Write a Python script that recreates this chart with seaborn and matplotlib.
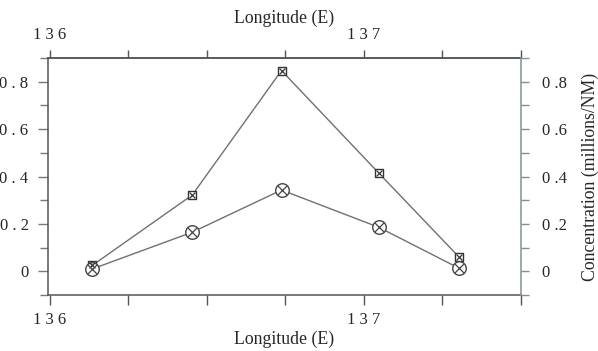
import matplotlib
matplotlib.use("Agg")
import matplotlib.pyplot as plt
import seaborn as sns
import pandas as pd
import numpy as np

# Data
longitude = [136.136, 136.454, 136.738, 137.047, 137.303]
series_square = [0.025, 0.322, 0.847, 0.415, 0.060]
series_circle = [0.010, 0.165, 0.343, 0.186, 0.013]

x_ticks = [136.0, 136.25, 136.5, 136.75, 137.0, 137.25, 137.5]
x_ticklabels = ["1 3 6", "", "", "", "1 3 7", "", ""]
y_ticks = [0.0, 0.2, 0.4, 0.6, 0.8]
y_left_labels = ["0", "0 . 2", "0 . 4", "0 . 6", "0 . 8"]
y_right_labels = ["0", "0 .2", "0 .4", "0 .6", "0 .8"]
y_minor = [-0.1, 0.1, 0.3, 0.5, 0.7, 0.9]

sns.set_theme(style="white")
plt.rcParams["font.family"] = ["Liberation Serif", "DejaVu Serif"]

df = pd.DataFrame({
    "lon": longitude * 2,
    "val": series_square + series_circle,
    "series": ["square"] * 5 + ["circle"] * 5,
})

fig = plt.figure(figsize=(5.98, 3.51), dpi=100)
ax = fig.add_axes([0.0803, 0.1595, 0.7909, 0.6753])

line_col = "#707070"
sns.lineplot(data=df, x="lon", y="val", units="series", estimator=None,
             color=line_col, lw=1.0, ax=ax, legend=False)

sq = df[df.series == "square"]
ci = df[df.series == "circle"]
ax.scatter(sq.lon, sq.val, marker="s", s=40, facecolor="white", edgecolor="#333333", lw=1.0, zorder=3)
ax.scatter(sq.lon, sq.val, marker="x", s=18, color="#333333", lw=0.9, zorder=4)
ax.scatter(ci.lon, ci.val, marker="o", s=95, facecolor="white", edgecolor="#444444", lw=1.0, zorder=3)
ax.scatter(ci.lon, ci.val, marker="x", s=42, color="#444444", lw=0.9, zorder=4)

ax.set_xlim(136.0 - 0.005, 137.5)
ax.set_ylim(-0.1, 0.9)

tick_fs = 12
lab_fs = 12.8

ax.set_xticks(x_ticks)
ax.set_xticklabels(x_ticklabels, fontsize=tick_fs)
ax.set_yticks(y_ticks)
ax.set_yticklabels(y_left_labels, fontsize=tick_fs)
ax.set_yticks(y_minor, minor=True)
ax.tick_params(axis="x", which="both", direction="out", length=7, width=1, color="#555555", pad=5, bottom=True)
ax.tick_params(axis="y", which="major", direction="out", length=7, width=1, color="#777777", pad=7, left=True)
ax.tick_params(axis="y", which="minor", direction="out", length=6, width=1, color="#777777", left=True)
ax.set_xlabel("Longitude (E)", fontsize=lab_fs, labelpad=2)
ax.set_ylabel("")

for s in ["left", "bottom", "top"]:
    ax.spines[s].set_visible(True)
    ax.spines[s].set_color("#555555")
    ax.spines[s].set_linewidth(1.1)
ax.spines["right"].set_visible(False)

# Top axis
top = ax.secondary_xaxis("top")
top.set_xticks(x_ticks)
top.set_xticklabels(x_ticklabels, fontsize=tick_fs)
top.tick_params(direction="out", length=6, width=1, color="#555555", pad=5)
top.set_xlabel("Longitude (E)", fontsize=lab_fs, labelpad=3)
top.spines["top"].set_color("#555555")
top.spines["top"].set_linewidth(1.1)

# Right axis
right = ax.twinx()
right.set_ylim(-0.1, 0.9)
right.set_yticks(y_ticks)
right.set_yticklabels(y_right_labels, fontsize=tick_fs)
right.set_yticks(y_minor, minor=True)
right.tick_params(axis="y", which="both", direction="out", length=6, width=1, color="#7f9488", pad=9, right=True)
right.set_ylabel("Concentration (millions/NM)", fontsize=lab_fs, labelpad=11)
for s in ["left", "bottom", "top"]:
    right.spines[s].set_visible(False)
right.spines["right"].set_visible(True)
right.spines["right"].set_color("#7f9488")
right.spines["right"].set_linewidth(1.1)

fig.savefig("out.png", dpi=100, facecolor="white")
